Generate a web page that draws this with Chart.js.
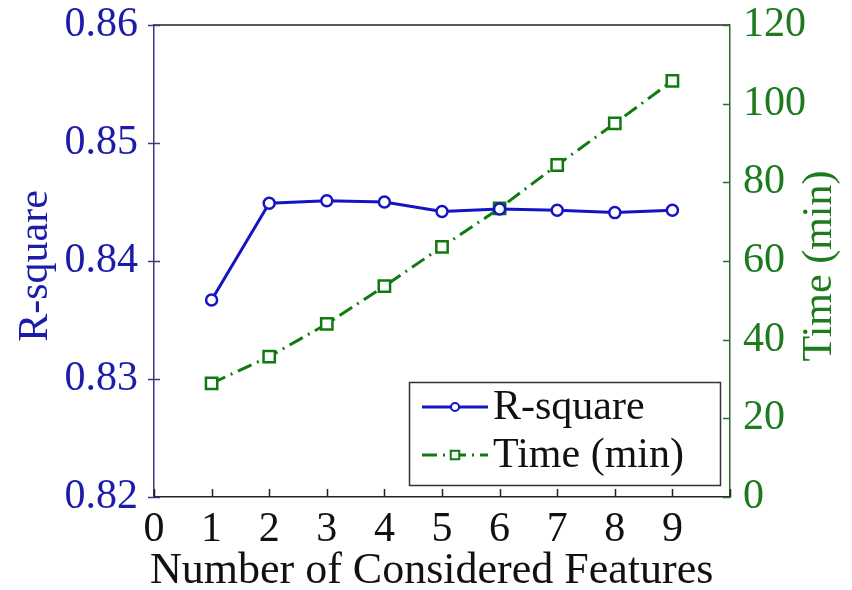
<!DOCTYPE html>
<html>
<head>
<meta charset="utf-8">
<script src="https://cdn.jsdelivr.net/npm/chart.js@4/dist/chart.umd.min.js"></script>
<style>
  html, body { margin: 0; padding: 0; background: #fff; }
  #wrap { width: 852px; height: 590px; }
</style>
</head>
<body>
<div id="wrap"><canvas id="c" width="852" height="590"></canvas></div>
<script>
// Number of features considered and the resulting model quality / run time
const features = [1, 2, 3, 4, 5, 6, 7, 8, 9];
const rSquare = [0.8367, 0.8449, 0.8451, 0.8450, 0.8442, 0.8444, 0.8443, 0.8441, 0.8443];
const timeMin = [28.9, 35.7, 44.0, 53.6, 63.6, 73.4, 84.4, 95.0, 105.8];

const seriesNames = ['R-square', 'Time (min)'];
const axisTitles = { x: 'Number of Considered Features', left: 'R-square', right: 'Time (min)' };

const BLUE = '#1414c4';
const BLUE_TXT = '#1c1caa';
const GREEN = '#0f7a0f';
const GREEN_TXT = '#1d7a1d';
const FONT = '"Liberation Serif", "Times New Roman", serif';
const FS = 42;

// inward ticks, top edge, axis titles and the boxed legend
const framePlugin = {
  id: 'frame',
  afterDraw(chart) {
    const { ctx, chartArea: a, scales } = chart;
    const { x, y, y1 } = scales;
    const seg = (x1, y1_, x2, y2) => { ctx.beginPath(); ctx.moveTo(x1, y1_); ctx.lineTo(x2, y2); ctx.stroke(); };
    ctx.save();

    ctx.lineWidth = 1.5;
    ctx.strokeStyle = '#222';
    seg(a.left, a.top, a.right, a.top);

    x.ticks.forEach(t => {
      const px = Math.round(x.getPixelForValue(t.value)) + 0.5;
      seg(px, a.bottom, px, a.bottom - 8);
    });

    ctx.strokeStyle = '#3a3a80';
    y.ticks.forEach(t => {
      const py = Math.round(y.getPixelForValue(t.value)) + 0.5;
      seg(a.left - 6, py, a.left + 6, py);
    });

    ctx.strokeStyle = '#2b6b2b';
    y1.ticks.forEach(t => {
      const py = Math.round(y1.getPixelForValue(t.value)) + 0.5;
      seg(a.right, py, a.right - 7, py);
    });

    // axis titles
    ctx.textAlign = 'center';
    ctx.textBaseline = 'middle';
    ctx.fillStyle = '#111';
    ctx.font = `44px ${FONT}`;
    ctx.fillText(axisTitles.x, a.left + a.width * 0.482, 571);

    ctx.font = `${FS}px ${FONT}`;
    ctx.save();
    ctx.translate(36, 266);
    ctx.rotate(-Math.PI / 2);
    ctx.fillStyle = BLUE_TXT;
    ctx.fillText(axisTitles.left, 0, 0);
    ctx.restore();

    ctx.save();
    ctx.translate(820, 266);
    ctx.rotate(-Math.PI / 2);
    ctx.fillStyle = GREEN_TXT;
    ctx.fillText(axisTitles.right, 0, 0);
    ctx.restore();

    // legend box
    const bx = 409, by = 382, bw = 311, bh = 103;
    ctx.fillStyle = '#fff';
    ctx.fillRect(bx, by, bw, bh);
    ctx.strokeStyle = '#333';
    ctx.lineWidth = 1.5;
    ctx.strokeRect(bx + 0.5, by + 0.5, bw, bh);

    const rows = [
      { y: 407, ds: chart.data.datasets[0] },
      { y: 455, ds: chart.data.datasets[1] }
    ];
    rows.forEach(r => {
      const ds = r.ds;
      ctx.strokeStyle = ds.borderColor;
      ctx.lineWidth = ds.borderWidth;
      ctx.setLineDash(ds.borderDash || []);
      seg(422, r.y, 488, r.y);
      ctx.setLineDash([]);
      ctx.fillStyle = '#fff';
      ctx.strokeStyle = ds.pointBorderColor;
      ctx.lineWidth = 2;
      Chart.helpers.drawPoint(ctx, {
        pointStyle: ds.pointStyle,
        rotation: 0,
        radius: ds.pointStyle === 'rect' ? 6 : 4,
        borderWidth: 2
      }, 455, r.y);
      ctx.fillStyle = '#111';
      ctx.textAlign = 'left';
      ctx.textBaseline = 'middle';
      ctx.font = `${FS}px ${FONT}`;
      ctx.fillText(ds.label, 493, r.y + 1);
    });

    ctx.restore();
  }
};

const bgPlugin = {
  id: 'bg',
  beforeDraw(chart) {
    const { ctx, width, height } = chart;
    ctx.save();
    ctx.fillStyle = '#fff';
    ctx.fillRect(0, 0, width, height);
    ctx.restore();
  }
};

const noPad = s => { s.paddingTop = 0; s.paddingBottom = 0; s.paddingLeft = 0; s.paddingRight = 0; };

new Chart(document.getElementById('c'), {
  type: 'line',
  data: {
    datasets: [
      {
        label: seriesNames[0],
        data: features.map((f, i) => ({ x: f, y: rSquare[i] })),
        yAxisID: 'y',
        borderColor: BLUE,
        backgroundColor: '#fff',
        borderWidth: 3,
        pointStyle: 'circle',
        pointRadius: 5.5,
        pointBorderWidth: 2.5,
        pointBorderColor: BLUE,
        pointBackgroundColor: '#fff',
        tension: 0
      },
      {
        label: seriesNames[1],
        data: features.map((f, i) => ({ x: f, y: timeMin[i] })),
        yAxisID: 'y1',
        borderColor: GREEN,
        backgroundColor: '#fff',
        borderWidth: 3,
        borderDash: [15, 6, 2, 6],
        pointStyle: 'rect',
        pointRadius: 8,
        pointBorderWidth: 2.5,
        pointBorderColor: GREEN,
        pointBackgroundColor: '#fff',
        tension: 0
      }
    ]
  },
  options: {
    responsive: false,
    animation: false,
    events: [],
    layout: { padding: { top: 25, left: 0, right: 0, bottom: 0 } },
    plugins: { legend: { display: false }, tooltip: { enabled: false } },
    scales: {
      x: {
        type: 'linear',
        min: 0, max: 10,
        grid: { display: false, drawTicks: false },
        border: { display: true, color: '#222', width: 1.5 },
        ticks: {
          stepSize: 1,
          padding: 8,
          color: '#111',
          font: { family: FONT, size: FS },
          maxRotation: 0,
          callback: v => (v <= 9 ? String(v) : '')
        },
        afterFit: s => { s.height = 93; noPad(s); }
      },
      y: {
        position: 'left',
        min: 0.82, max: 0.86,
        grid: { display: false, drawTicks: false },
        border: { display: true, color: '#3a3a80', width: 1.5 },
        ticks: {
          stepSize: 0.01,
          padding: 16,
          color: BLUE_TXT,
          font: { family: FONT, size: FS },
          callback: v => v.toFixed(2)
        },
        afterFit: s => { s.width = 154; noPad(s); }
      },
      y1: {
        position: 'right',
        min: 0, max: 120,
        grid: { display: false, drawTicks: false },
        border: { display: true, color: '#2b6b2b', width: 1.5 },
        ticks: {
          stepSize: 20,
          padding: 13,
          color: GREEN_TXT,
          font: { family: FONT, size: FS }
        },
        afterFit: s => { s.width = 122; noPad(s); }
      }
    }
  },
  plugins: [bgPlugin, framePlugin]
});
</script>
</body>
</html>
